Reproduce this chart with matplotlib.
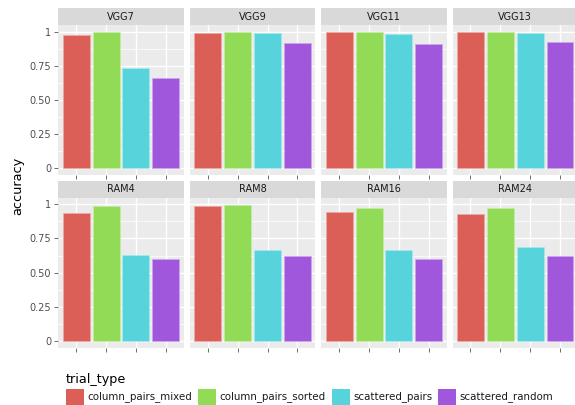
import matplotlib
matplotlib.use("Agg")
import matplotlib.pyplot as plt
from matplotlib.patches import Rectangle
from matplotlib.ticker import MultipleLocator

models = ["VGG7", "VGG9", "VGG11", "VGG13", "RAM4", "RAM8", "RAM16", "RAM24"]
trial_types = ["column_pairs_mixed", "column_pairs_sorted", "scattered_pairs", "scattered_random"]

column_pairs_mixed = [0.973, 0.993, 0.995, 0.998, 0.936, 0.985, 0.946, 0.931]
column_pairs_sorted = [0.997, 0.997, 0.997, 0.997, 0.985, 0.997, 0.975, 0.973]
scattered_pairs = [0.737, 0.988, 0.985, 0.992, 0.626, 0.663, 0.663, 0.685]
scattered_random = [0.663, 0.919, 0.907, 0.927, 0.599, 0.620, 0.599, 0.621]

y_ticks = [0, 0.25, 0.5, 0.75, 1.0]
y_tick_labels = ["0", "0.25", "0.50", "0.75", "1"]

colors = ["#DB5F57", "#91DB57", "#57D3DB", "#A157DB"]
edge_colors = ["#EFA9A4", "#C5EEA5", "#A6EAEE", "#CDA6EE"]
series = [column_pairs_mixed, column_pairs_sorted, scattered_pairs, scattered_random]

W, H = 575, 405
fig = plt.figure(figsize=(W / 100, H / 100), dpi=100)

col_left = [58.3, 190.0, 321.3, 452.5]
panel_w = 125.4
row_strip_top = [8.3, 181.0]
strip_h = 16.7
panel_h = 150.3

ymax = max(max(s) for s in series)
ylo, yhi = -0.05 * ymax, ymax * 1.05

def frac_rect(x, y_top, w, h):
    return [x / W, 1 - (y_top + h) / H, w / W, h / H]

for i, model in enumerate(models):
    r, c = divmod(i, 4)
    x0 = col_left[c]
    panel_top = row_strip_top[r] + strip_h
    ax = fig.add_axes(frac_rect(x0, panel_top, panel_w, panel_h))
    ax.set_facecolor("#EBEBEB")
    vals = [s[i] for s in series]
    ax.bar(range(1, 5), vals, width=0.9, color=colors, edgecolor=edge_colors,
           linewidth=0.5, zorder=3)
    ax.set_xlim(0.4, 4.6)
    ax.set_ylim(ylo, yhi)
    ax.set_xticks(range(1, 5))
    ax.set_xticklabels([])
    ax.set_yticks(y_ticks)
    ax.yaxis.set_minor_locator(MultipleLocator(0.125))
    ax.grid(which="major", color="white", linewidth=1.0, zorder=0)
    ax.grid(which="minor", axis="y", color="white", linewidth=0.5, zorder=0)
    ax.set_axisbelow(True)
    for sp in ax.spines.values():
        sp.set_visible(False)
    ax.tick_params(axis="both", which="major", length=3, color="#333333", width=0.5,
                   labelsize=7, labelcolor="#4D4D4D", pad=2)
    ax.tick_params(axis="y", which="minor", length=0)
    if c == 0:
        ax.set_yticklabels(y_tick_labels)
    else:
        ax.set_yticklabels([])
        ax.tick_params(axis="y", which="major", length=0)
    # facet strip
    sax = fig.add_axes(frac_rect(x0, row_strip_top[r], panel_w, strip_h))
    sax.set_facecolor("#D9D9D9")
    sax.set_xticks([])
    sax.set_yticks([])
    for sp in sax.spines.values():
        sp.set_visible(False)
    sax.text(0.5, 0.5, model, ha="center", va="center", fontsize=7, color="#1A1A1A",
             transform=sax.transAxes)

fig.text(18 / W, 1 - 186 / H, "accuracy", rotation=90, ha="center", va="center",
         fontsize=9.3, color="black")

# legend
fig.text(66 / W, 1 - 380 / H, "trial_type", ha="left", va="center", fontsize=9.2, color="black")
key_x = [66.0, 198.3, 332.3, 438.3]
key_w, key_h = 18, 17
key_top = 388.5
for kx, col, name in zip(key_x, colors, trial_types):
    fig.patches.append(Rectangle((kx / W, 1 - (key_top + key_h) / H), key_w / W, key_h / H,
                                 transform=fig.transFigure, facecolor=col, edgecolor="none"))
    fig.text((kx + key_w + 3.5) / W, 1 - (key_top + key_h / 2) / H, name, ha="left",
             va="center", fontsize=7.35, color="#1A1A1A")

fig.savefig("out.png", dpi=100)
